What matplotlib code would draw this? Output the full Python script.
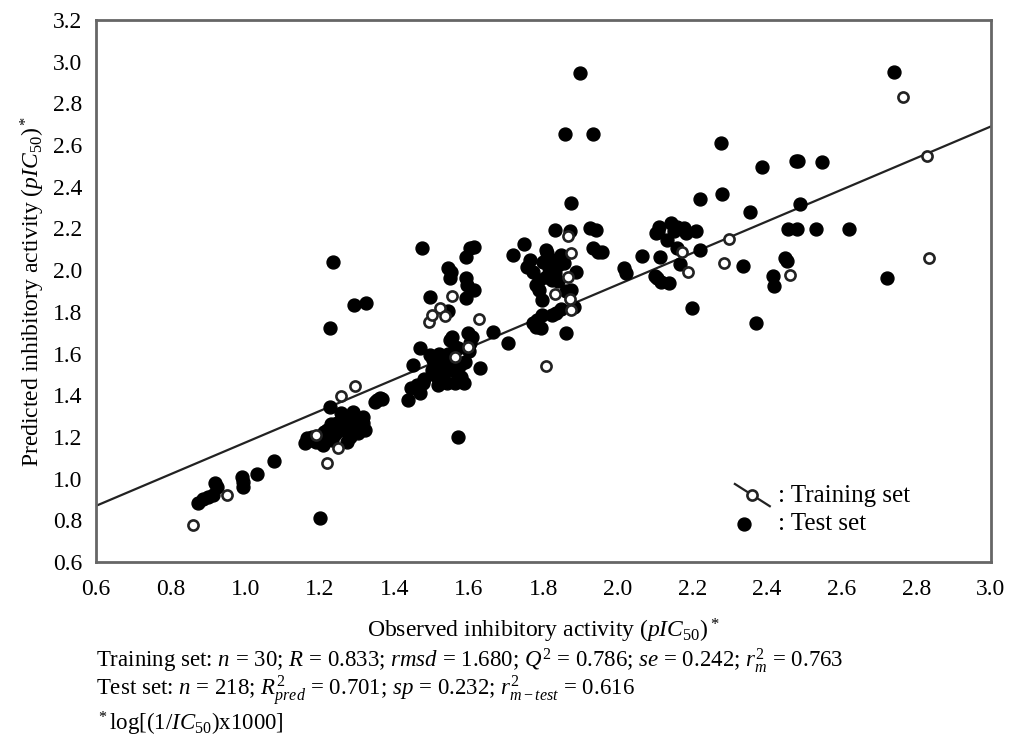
# plot.py
# scatter of observed vs predicted inhibitory activity (pIC50)
# open circles = training set, filled dots = test set, plus the fitted line

import matplotlib
matplotlib.use('Agg')
import matplotlib.pyplot as plt
import numpy as np

plt.rcParams['font.family'] = ['Liberation Serif', 'DejaVu Serif']
plt.rcParams['mathtext.fontset'] = 'custom'
plt.rcParams['mathtext.rm'] = 'Liberation Serif'
plt.rcParams['mathtext.it'] = 'Liberation Serif:italic'
plt.rcParams['mathtext.bf'] = 'Liberation Serif:bold'

# training set (observed, predicted)
train_obs = [0.86, 0.95, 1.22, 1.25, 1.256, 1.294, 1.19, 1.556, 1.492, 1.50,
             1.522, 1.537, 1.626, 1.564, 1.597, 1.806, 1.867, 1.875, 1.865, 1.832,
             1.87, 1.875, 2.172, 2.188, 2.829, 2.298, 2.285, 2.462, 2.834, 2.765]
train_pred = [0.777, 0.921, 1.075, 1.147, 1.396, 1.444, 1.209, 1.877, 1.751, 1.785,
              1.818, 1.78, 1.765, 1.583, 1.631, 1.54, 2.164, 2.08, 1.967, 1.885,
              1.86, 1.81, 2.087, 1.99, 2.547, 2.149, 2.034, 1.977, 2.058, 2.83]

# test set (observed, predicted)
test_obs = [
    # low end
    0.873, 0.887, 0.900, 0.913, 0.919, 0.924, 0.990, 0.994, 0.994, 1.031, 1.077, 1.200,
    # 1.2 group
    1.160, 1.165, 1.180, 1.190, 1.205, 1.208, 1.220, 1.232, 1.245, 1.259, 1.267, 1.272,
    1.280, 1.288, 1.302, 1.315, 1.227, 1.256, 1.288, 1.299, 1.315, 1.320, 1.353, 1.361,
    1.347, 1.175, 1.195, 1.215, 1.240, 1.250, 1.270, 1.230, 1.210,
    1.235, 1.291, 1.323, 1.227,
    # 1.5 group
    1.366, 1.436, 1.446, 1.460, 1.468, 1.476, 1.449, 1.468, 1.495, 1.503, 1.514, 1.527,
    1.535, 1.543, 1.553, 1.567, 1.580, 1.588, 1.562, 1.540, 1.521, 1.508, 1.516, 1.575,
    1.530, 1.556, 1.548, 1.562, 1.570, 1.597, 1.607, 1.602, 1.664, 1.704, 1.631, 1.572,
    1.480, 1.500, 1.520, 1.545, 1.555, 1.590, 1.600,
    1.473, 1.591, 1.602, 1.615, 1.543, 1.553, 1.548, 1.591, 1.594, 1.615, 1.591, 1.497,
    1.545,
    # 1.8 group
    1.717, 1.747, 1.832, 1.872, 1.875, 1.926, 1.940, 1.932, 1.947, 1.757, 1.771, 1.781,
    1.789, 1.797, 1.808, 1.810, 1.824, 1.838, 1.848, 1.830, 1.822, 1.808, 1.789, 1.856,
    1.888, 1.875, 1.883, 1.848, 1.835, 1.822, 1.797, 1.784, 1.781, 1.794, 1.771, 1.861,
    1.899, 1.859, 1.934, 1.800, 1.815, 1.840, 1.860, 1.765,
    # 2.0 - 2.2 group
    1.958, 2.017, 2.022, 2.065, 2.103, 2.105, 2.111, 2.106, 2.143, 2.159, 2.178, 2.183,
    2.210, 2.132, 2.159, 2.221, 2.113, 2.167, 2.100, 2.116, 2.138, 2.199, 2.150,
    # high end
    2.277, 2.387, 2.478, 2.483, 2.547, 2.221, 2.279, 2.355, 2.489, 2.456, 2.481, 2.531,
    2.620, 2.336, 2.448, 2.454, 2.416, 2.419, 2.722, 2.371, 2.740]
test_pred = [
    0.883, 0.902, 0.910, 0.920, 0.979, 0.960, 1.008, 0.960, 0.984, 1.022, 1.084, 0.811,
    1.170, 1.195, 1.200, 1.175, 1.210, 1.161, 1.233, 1.185, 1.267, 1.233, 1.281, 1.176,
    1.200, 1.248, 1.219, 1.295, 1.343, 1.314, 1.319, 1.281, 1.267, 1.233, 1.377, 1.386,
    1.367, 1.185, 1.190, 1.195, 1.215, 1.250, 1.240, 1.260, 1.225,
    2.039, 1.833, 1.842, 1.722,
    1.382, 1.377, 1.435, 1.449, 1.411, 1.458, 1.545, 1.626, 1.593, 1.569, 1.535, 1.554,
    1.530, 1.569, 1.521, 1.507, 1.487, 1.458, 1.458, 1.458, 1.473, 1.497, 1.449, 1.545,
    1.507, 1.679, 1.665, 1.631, 1.626, 1.698, 1.679, 1.650, 1.703, 1.650, 1.530, 1.200,
    1.480, 1.520, 1.600, 1.600, 1.560, 1.560, 1.610,
    2.106, 2.063, 2.106, 2.111, 2.010, 1.991, 1.962, 1.962, 1.929, 1.905, 1.866, 1.871,
    1.804,
    2.072, 2.125, 2.192, 2.188, 2.322, 2.202, 2.192, 2.106, 2.087, 2.015, 1.991, 1.929,
    1.905, 1.857, 2.096, 2.082, 2.048, 2.024, 2.072, 1.986, 1.953, 1.967, 1.953, 2.034,
    1.991, 1.905, 1.823, 1.813, 1.794, 1.785, 1.785, 1.761, 1.727, 1.722, 1.746, 1.698,
    2.945, 2.653, 2.653, 2.040, 2.010, 1.950, 1.900, 2.050,
    2.087, 2.010, 1.986, 2.068, 2.178, 1.962, 2.207, 2.183, 2.226, 2.207, 2.202, 2.178,
    2.188, 2.144, 2.106, 2.096, 2.063, 2.029, 1.972, 1.943, 1.938, 1.818, 2.190,
    2.610, 2.495, 2.523, 2.523, 2.518, 2.341, 2.365, 2.279, 2.317, 2.197, 2.197, 2.197,
    2.197, 2.020, 2.058, 2.044, 1.972, 1.924, 1.962, 1.746, 2.950]

# fitted line (slope, intercept) and axis ticks
fit_slope = 0.758
fit_intercept = 0.415
x_ticks = [0.6, 0.8, 1.0, 1.2, 1.4, 1.6, 1.8, 2.0, 2.2, 2.4, 2.6, 2.8, 3.0]
y_ticks = [0.6, 0.8, 1.0, 1.2, 1.4, 1.6, 1.8, 2.0, 2.2, 2.4, 2.6, 2.8, 3.0, 3.2]

fig = plt.figure(figsize=(10.12, 7.4), dpi=100)
ax = fig.add_axes([0.095, 0.2405, 0.884, 0.7325])

# regression line across the whole x range
line_x = np.array([x_ticks[0], x_ticks[-1]])
ax.plot(line_x, fit_slope * line_x + fit_intercept, color='#222222', linewidth=1.6, zorder=2)

# test set first, training set on top
ax.plot(test_obs, test_pred, linestyle='none', marker='o', markersize=9.3,
        color='black', zorder=3)
ax.plot(train_obs, train_pred, linestyle='none', marker='o', markersize=7.3,
        markerfacecolor='white', markeredgecolor='#222222', markeredgewidth=1.9, zorder=4)

ax.set_xlim(0.6, 3.0)
ax.set_ylim(0.6, 3.2)
ax.set_xticks(x_ticks)
ax.set_yticks(y_ticks)
ax.set_xticklabels(['%.1f' % t for t in x_ticks])
ax.set_yticklabels(['%.1f' % t for t in y_ticks])
ax.tick_params(length=0, labelsize=17)
ax.tick_params(axis='x', pad=12)
ax.tick_params(axis='y', pad=10)
for s in ax.spines.values():
    s.set_color('#666666')
    s.set_linewidth(2)

ax.set_xlabel(r'Observed inhibitory activity ($\mathit{pIC}_{\mathit{50}}$)$^*$', fontsize=17, labelpad=12)
ax.set_ylabel(r'Predicted inhibitory activity ($\mathit{pIC}_{\mathit{50}}$)$^*$', fontsize=17, labelpad=4)

# hand drawn legend in the lower right corner
ax.plot([0.714, 0.753], [0.144, 0.103], transform=ax.transAxes, color='#222222', linewidth=1.6)
ax.plot([0.733], [0.124], transform=ax.transAxes, marker='o', markersize=7.3,
        markerfacecolor='white', markeredgecolor='#222222', markeredgewidth=1.9)
ax.text(0.762, 0.121, ': Training set', transform=ax.transAxes, fontsize=18, va='center')
ax.plot([0.724], [0.071], transform=ax.transAxes, marker='o', markersize=9.3, color='black')
ax.text(0.762, 0.071, ': Test set', transform=ax.transAxes, fontsize=18, va='center')

# statistics under the chart
fig.text(0.095, 0.107,
         r'Training set: $\mathit{n}$ = 30; $\mathit{R}$ = 0.833; $\mathit{rmsd}$ = 1.680; '
         r'$\mathit{Q}^2$ = 0.786; $\mathit{se}$ = 0.242; $\mathit{r}^2_{\mathit{m}}$ = 0.763',
         fontsize=16.5, va='center')
fig.text(0.095, 0.066,
         r'Test set: $\mathit{n}$ = 218; $\mathit{R}^2_{\mathit{pred}}$ = 0.701; '
         r'$\mathit{sp}$ = 0.232; $\mathit{r}^2_{\mathit{m-test}}$ = 0.616',
         fontsize=16.5, va='center')
fig.text(0.095, 0.022, r'$^*$log[(1/$\mathit{IC}_{\mathit{50}}$)x1000]', fontsize=16.5, va='center')

plt.savefig('out.png', dpi=100)
